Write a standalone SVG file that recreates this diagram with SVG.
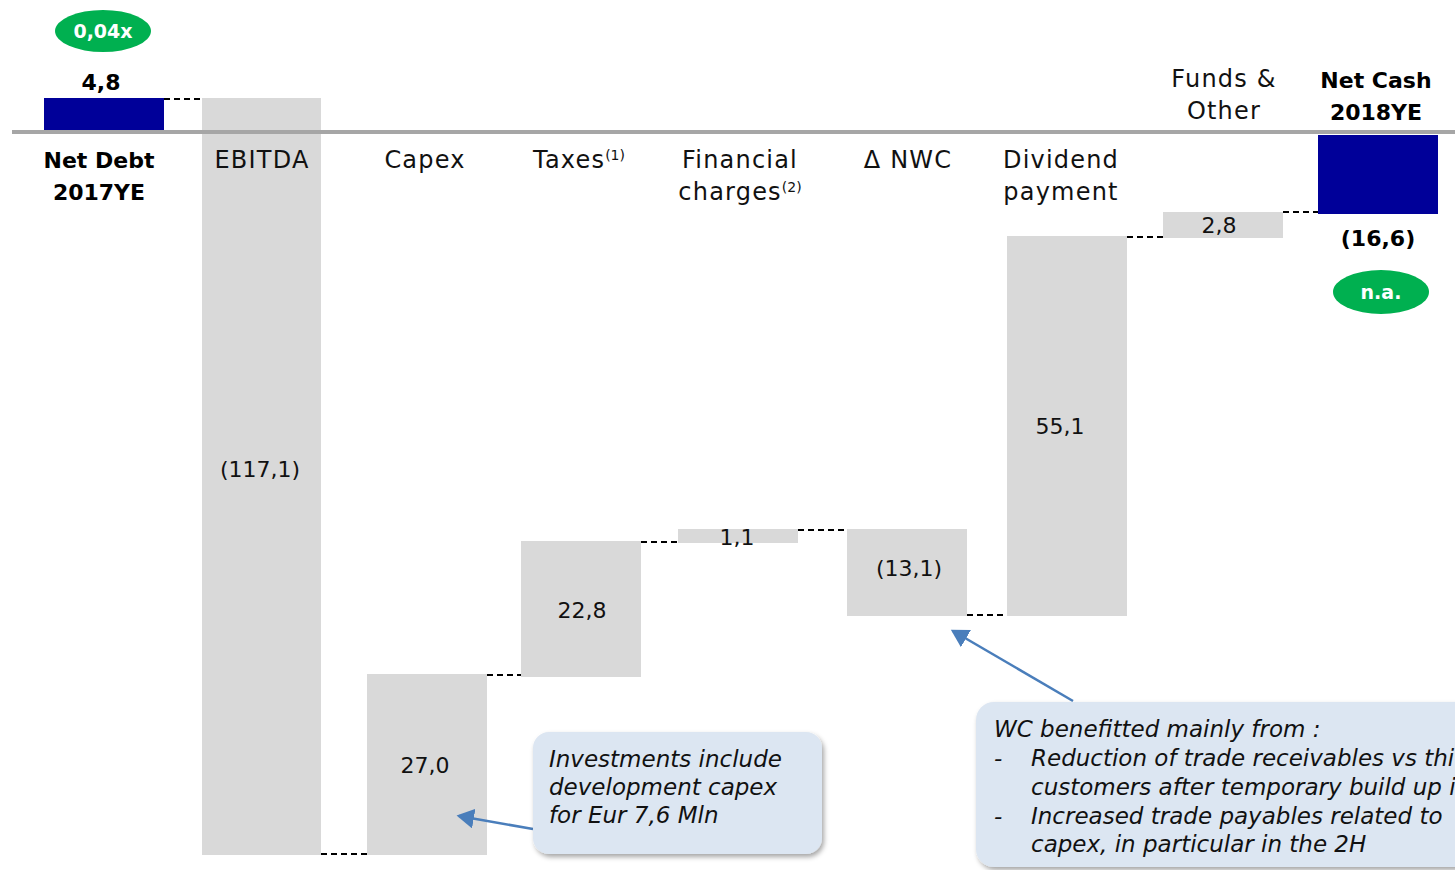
<svg xmlns="http://www.w3.org/2000/svg" width="1455" height="870" viewBox="0 0 1455 870">
<defs>
<style>
.bar{fill:#d9d9d9}
.blue{fill:#000099}
.dash{stroke:#000;stroke-width:2;stroke-dasharray:6 4;fill:none}
.t{font-family:"DejaVu Sans","Liberation Sans",sans-serif;font-size:24px;letter-spacing:1.2px;fill:#111;text-anchor:middle}
.n{font-family:"DejaVu Sans","Liberation Sans",sans-serif;font-size:22px;fill:#111;text-anchor:middle}
.b{font-family:"DejaVu Sans","Liberation Sans",sans-serif;font-size:22px;font-weight:bold;fill:#000;text-anchor:middle}
.w{font-family:"DejaVu Sans","Liberation Sans",sans-serif;font-size:19px;font-weight:bold;fill:#fff;text-anchor:middle}
.i{font-family:"DejaVu Sans","Liberation Sans",sans-serif;font-size:23px;font-style:italic;fill:#111}
.sup{font-size:14px;letter-spacing:0}
.arr{stroke:#4a7ebb;stroke-width:2.5;fill:none;marker-end:url(#ah)}
.call{fill:#dce6f2}
</style>
<marker id="ah" markerWidth="8" markerHeight="8" refX="6" refY="4" orient="auto" markerUnits="strokeWidth">
<path d="M0,0 L7,4 L0,8 z" fill="#4a7ebb"/>
</marker>
<filter id="sh" x="-10%" y="-10%" width="130%" height="140%">
<feDropShadow dx="2" dy="3" stdDeviation="2.5" flood-color="#000" flood-opacity="0.35"/>
</filter>
</defs>
<rect width="1455" height="870" fill="#fff"/>

<g id="ebitda"><rect class="bar" x="202" y="98" width="119" height="757"/><text class="t" x="262" y="168">EBITDA</text><text class="n" x="260" y="477">(117,1)</text></g>
<g id="netdebt"><rect class="blue" x="44" y="98" width="120" height="32"/><text class="b" x="101" y="90">4,8</text><text class="b" x="99" y="168">Net Debt</text><text class="b" x="99" y="200">2017YE</text>
<ellipse cx="103" cy="31" rx="48" ry="21" fill="#00b050"/><text class="w" x="103" y="38">0,04x</text></g>

<line x1="12" y1="132" x2="1455" y2="132" stroke="#a6a6a6" stroke-width="4"/>

<g id="capex"><rect class="bar" x="367" y="674" width="120" height="181"/><text class="t" x="425" y="168">Capex</text><text class="n" x="425" y="773">27,0</text></g>
<g id="taxes"><rect class="bar" x="521" y="541" width="120" height="136"/><text class="t" x="579" y="168">Taxes<tspan class="sup" dy="-8">(1)</tspan></text><text class="n" x="582" y="618">22,8</text></g>
<g id="fincharges"><rect class="bar" x="678" y="529" width="120" height="14"/><text class="t" x="740" y="168">Financial</text><text class="t" x="740" y="200">charges<tspan class="sup" dy="-8">(2)</tspan></text><text class="n" x="737" y="545">1,1</text></g>
<g id="nwc"><rect class="bar" x="847" y="529" width="120" height="87"/><text class="t" x="908" y="168">Δ NWC</text><text class="n" x="909" y="576">(13,1)</text></g>
<g id="dividend"><rect class="bar" x="1007" y="236" width="120" height="380"/><text class="t" x="1061" y="168">Dividend</text><text class="t" x="1061" y="200">payment</text><text class="n" x="1060" y="434">55,1</text></g>
<g id="funds"><rect class="bar" x="1163" y="212" width="120" height="26"/><text class="t" x="1224" y="87">Funds &amp;</text><text class="t" x="1224" y="119">Other</text><text class="n" x="1219" y="233">2,8</text></g>
<g id="netcash"><rect class="blue" x="1318" y="135" width="120" height="79"/><text class="b" x="1376" y="88">Net Cash</text><text class="b" x="1376" y="120">2018YE</text><text class="b" x="1378" y="246">(16,6)</text>
<ellipse cx="1381" cy="292" rx="48" ry="22" fill="#00b050"/><text class="w" x="1381" y="299">n.a.</text></g>

<g id="connectors">
<line class="dash" x1="164" y1="99" x2="202" y2="99"/>
<line class="dash" x1="321" y1="854" x2="367" y2="854"/>
<line class="dash" x1="487" y1="675" x2="521" y2="675"/>
<line class="dash" x1="641" y1="542" x2="678" y2="542"/>
<line class="dash" x1="798" y1="530" x2="847" y2="530"/>
<line class="dash" x1="967" y1="615" x2="1007" y2="615"/>
<line class="dash" x1="1127" y1="237" x2="1163" y2="237"/>
<line class="dash" x1="1283" y1="212" x2="1318" y2="212"/>
<line class="arr" x1="533" y1="829" x2="459" y2="816"/>
<line class="arr" x1="1073" y1="701" x2="953" y2="631"/>
</g>

<g id="callout1"><rect class="call" x="533" y="732" width="289" height="122" rx="16" filter="url(#sh)"/>
<text class="i" x="549" y="767">Investments include</text>
<text class="i" x="549" y="795">development capex</text>
<text class="i" x="549" y="823">for Eur 7,6 Mln</text></g>

<g id="callout2"><rect class="call" x="976" y="702" width="500" height="165" rx="18" filter="url(#sh)"/>
<text class="i" x="994" y="737">WC benefitted mainly from :</text>
<text class="i" x="994" y="766">-</text><text class="i" x="1031" y="766">Reduction of trade receivables vs thi</text>
<text class="i" x="1031" y="795">customers after temporary build up i</text>
<text class="i" x="994" y="824">-</text><text class="i" x="1031" y="824">Increased trade payables related to</text>
<text class="i" x="1031" y="852">capex, in particular in the 2H</text></g>
</svg>
